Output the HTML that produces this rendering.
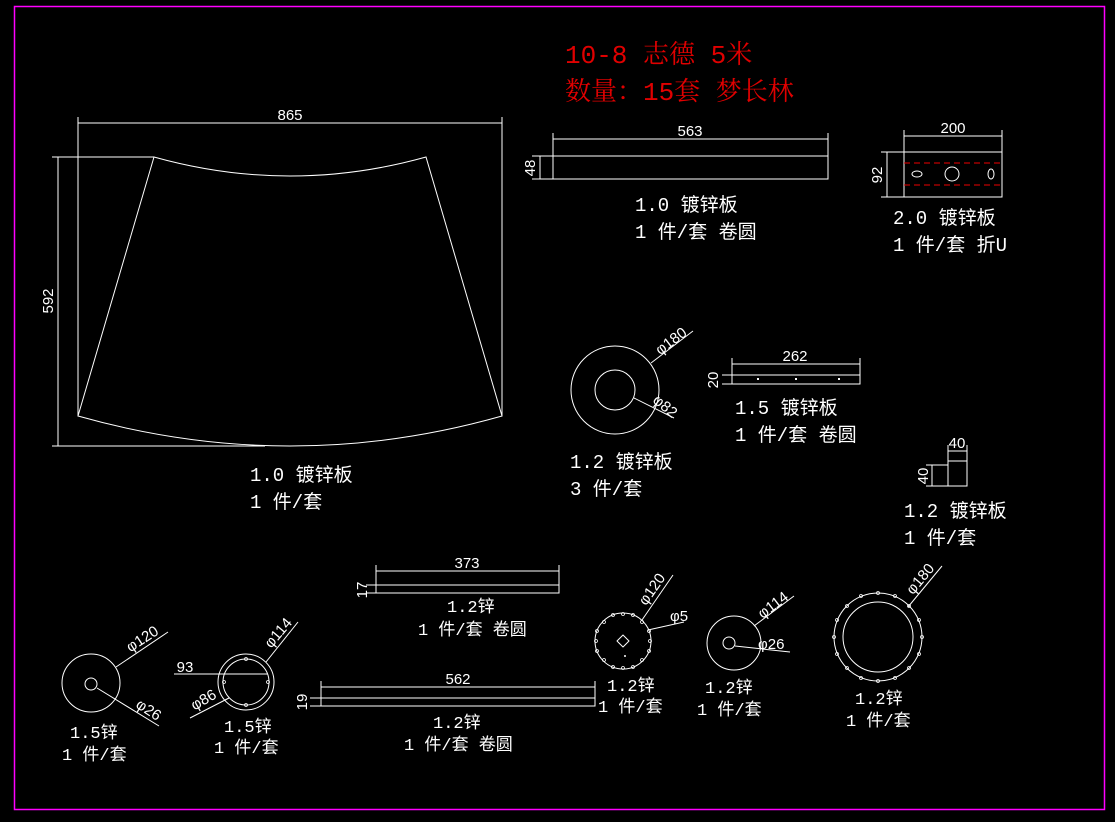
<!DOCTYPE html>
<html><head><meta charset="utf-8"><style>
html,body{margin:0;padding:0;background:#000;}
svg{display:block;}
text{font-family:"Liberation Sans","Noto Sans CJK SC",sans-serif;fill:#fff;}
.l{font-family:"Liberation Mono","Noto Sans CJK SC",monospace;font-size:19px;}
.d{font-size:15px;}
.t{font-family:"Liberation Mono","Noto Serif CJK SC",monospace;font-size:26px;fill:#e00000;}
</style></head><body>
<svg width="1115" height="822" viewBox="0 0 1115 822" xmlns="http://www.w3.org/2000/svg">
<rect x="0" y="0" width="1115" height="822" fill="#000"/>
<rect x="14.5" y="6.5" width="1090" height="803" fill="none" stroke="#ff00ff" stroke-width="1.5"/>
<g stroke="#fff" stroke-width="1" fill="none">
<path d="M154,157 Q290,195 426,157 L502,416 Q290,476 78,416 Z"/>
<line x1="78" y1="117" x2="78" y2="416"/><line x1="502" y1="117" x2="502" y2="416"/>
<line x1="78" y1="123" x2="502" y2="123"/>
<line x1="52" y1="157" x2="154" y2="157"/><line x1="52" y1="446" x2="265" y2="446"/>
<line x1="58" y1="157" x2="58" y2="446"/>
<rect x="553" y="156" width="275" height="23"/>
<line x1="553" y1="133" x2="553" y2="156"/><line x1="828" y1="133" x2="828" y2="156"/>
<line x1="553" y1="139" x2="828" y2="139"/>
<line x1="532" y1="156" x2="553" y2="156"/><line x1="532" y1="179" x2="553" y2="179"/>
<line x1="540" y1="156" x2="540" y2="179"/>
<rect x="904" y="152" width="98" height="45"/>
<line x1="904" y1="130" x2="904" y2="152"/><line x1="1002" y1="130" x2="1002" y2="152"/>
<line x1="904" y1="136" x2="1002" y2="136"/>
<line x1="881" y1="152" x2="904" y2="152"/><line x1="881" y1="197" x2="904" y2="197"/>
<line x1="887" y1="152" x2="887" y2="197"/>
<ellipse cx="917" cy="174" rx="5" ry="3"/><circle cx="952" cy="174" r="7"/><ellipse cx="991" cy="174" rx="3" ry="5"/>
<circle cx="615" cy="390" r="44"/><circle cx="615" cy="390" r="20"/>
<line x1="651" y1="363" x2="693" y2="331"/><line x1="634" y1="398" x2="674" y2="418"/>
<rect x="732" y="375" width="128" height="9"/>
<line x1="732" y1="358" x2="732" y2="375"/><line x1="860" y1="358" x2="860" y2="375"/>
<line x1="732" y1="364" x2="860" y2="364"/>
<line x1="722" y1="375" x2="732" y2="375"/><line x1="722" y1="384" x2="732" y2="384"/>
<rect x="948" y="461" width="19" height="25"/>
<line x1="948" y1="445" x2="948" y2="461"/><line x1="967" y1="445" x2="967" y2="461"/>
<line x1="948" y1="451" x2="967" y2="451"/>
<line x1="926" y1="465" x2="948" y2="465"/><line x1="926" y1="486" x2="948" y2="486"/>
<line x1="932" y1="465" x2="932" y2="486"/>
<rect x="376" y="585" width="183" height="8"/>
<line x1="376" y1="565" x2="376" y2="585"/><line x1="559" y1="565" x2="559" y2="585"/>
<line x1="376" y1="571" x2="559" y2="571"/>
<line x1="366" y1="585" x2="376" y2="585"/><line x1="366" y1="593" x2="376" y2="593"/>
<rect x="321" y="698" width="274" height="8"/>
<line x1="321" y1="681" x2="321" y2="698"/><line x1="595" y1="681" x2="595" y2="698"/>
<line x1="321" y1="687" x2="595" y2="687"/>
<line x1="310" y1="698" x2="321" y2="698"/><line x1="310" y1="706" x2="321" y2="706"/>
<circle cx="91" cy="683" r="29"/><circle cx="91" cy="684" r="6"/>
<line x1="116" y1="667" x2="168" y2="632"/><line x1="97" y1="688" x2="159" y2="726"/>
<circle cx="246" cy="682" r="28"/><circle cx="246" cy="682" r="23"/>
<line x1="174" y1="674" x2="268" y2="674"/>
<line x1="266" y1="662" x2="298" y2="622"/><line x1="229" y1="698" x2="190" y2="718"/>
<circle cx="623" cy="641" r="28"/>
<path d="M623,635 L629,641 L623,647 L617,641 Z" stroke-linejoin="round"/>
<line x1="642" y1="620" x2="673" y2="575"/><line x1="648" y1="630" x2="684" y2="622"/>
<circle cx="734" cy="643" r="27"/><circle cx="729" cy="643" r="6"/>
<line x1="754" y1="626" x2="794" y2="596"/><line x1="735" y1="646" x2="790" y2="652"/>
<circle cx="878" cy="637" r="44"/><circle cx="878" cy="637" r="35"/>
<line x1="908" y1="607" x2="942" y2="566"/>
</g>
<g stroke="#e00" stroke-width="1" stroke-dasharray="6,4">
<line x1="904" y1="163" x2="1002" y2="163"/><line x1="904" y1="185" x2="1002" y2="185"/>
</g>
<g fill="#fff">
<circle cx="625" cy="656" r="1"/>
<rect x="795" y="378" width="2" height="2"/><rect x="757" y="378" width="2" height="2"/><rect x="838" y="378" width="2" height="2"/>
</g>
<g fill="none" stroke="#fff" stroke-width="0.8">
<circle cx="650" cy="641" r="1.5"/><circle cx="596" cy="641" r="1.5"/><circle cx="623" cy="614" r="1.5"/><circle cx="623" cy="668" r="1.5"/>
<circle cx="642" cy="622" r="1.5"/><circle cx="604" cy="622" r="1.5"/><circle cx="642" cy="660" r="1.5"/><circle cx="604" cy="660" r="1.5"/>
<circle cx="633" cy="615" r="1.5"/><circle cx="613" cy="615" r="1.5"/><circle cx="633" cy="667" r="1.5"/><circle cx="613" cy="667" r="1.5"/>
<circle cx="649" cy="651" r="1.5"/><circle cx="597" cy="651" r="1.5"/><circle cx="649" cy="631" r="1.5"/><circle cx="597" cy="631" r="1.5"/>
<circle cx="922" cy="637" r="1.5"/><circle cx="834" cy="637" r="1.5"/><circle cx="878" cy="593" r="1.5"/><circle cx="878" cy="681" r="1.5"/>
<circle cx="909" cy="606" r="1.5"/><circle cx="847" cy="606" r="1.5"/><circle cx="909" cy="668" r="1.5"/><circle cx="847" cy="668" r="1.5"/>
<circle cx="895" cy="596" r="1.5"/><circle cx="861" cy="596" r="1.5"/><circle cx="895" cy="678" r="1.5"/><circle cx="861" cy="678" r="1.5"/>
<circle cx="919" cy="620" r="1.5"/><circle cx="837" cy="620" r="1.5"/><circle cx="919" cy="654" r="1.5"/><circle cx="837" cy="654" r="1.5"/>
<circle cx="246" cy="659" r="1.5"/><circle cx="246" cy="705" r="1.5"/><circle cx="224" cy="682" r="1.5"/><circle cx="268" cy="682" r="1.5"/>
</g>
<text class="t" x="565" y="63">10-8 志德 5米</text>
<text class="t" x="565" y="100">数量：15套 梦长林</text>
<text class="d" x="290" y="120" text-anchor="middle">865</text>
<text class="d" x="53" y="301" text-anchor="middle" transform="rotate(-90 53 301)">592</text>
<text class="d" x="690" y="136" text-anchor="middle">563</text>
<text class="d" x="535" y="168" text-anchor="middle" transform="rotate(-90 535 168)">48</text>
<text class="d" x="953" y="133" text-anchor="middle">200</text>
<text class="d" x="882" y="175" text-anchor="middle" transform="rotate(-90 882 175)">92</text>
<text class="d" x="795" y="361" text-anchor="middle">262</text>
<text class="d" x="718" y="380" text-anchor="middle" transform="rotate(-90 718 380)">20</text>
<text class="d" x="957" y="448" text-anchor="middle">40</text>
<text class="d" x="928" y="476" text-anchor="middle" transform="rotate(-90 928 476)">40</text>
<text class="d" x="467" y="568" text-anchor="middle">373</text>
<text class="d" x="367" y="590" text-anchor="middle" transform="rotate(-90 367 590)">17</text>
<text class="d" x="458" y="684" text-anchor="middle">562</text>
<text class="d" x="307" y="702" text-anchor="middle" transform="rotate(-90 307 702)">19</text>
<text class="d" x="185" y="672" text-anchor="middle">93</text>
<text class="d" x="674" y="345" text-anchor="middle" transform="rotate(-37 674 345)">φ180</text>
<text class="d" x="662" y="410" text-anchor="middle" transform="rotate(40 662 410)">φ82</text>
<text class="d" x="145" y="643" text-anchor="middle" transform="rotate(-33 145 643)">φ120</text>
<text class="d" x="146" y="714" text-anchor="middle" transform="rotate(33 146 714)">φ26</text>
<text class="d" x="282" y="636" text-anchor="middle" transform="rotate(-50 282 636)">φ114</text>
<text class="d" x="206" y="704" text-anchor="middle" transform="rotate(-30 206 704)">φ86</text>
<text class="d" x="656" y="592" text-anchor="middle" transform="rotate(-55 656 592)">φ120</text>
<text class="d" x="670" y="621">φ5</text>
<text class="d" x="776" y="609" text-anchor="middle" transform="rotate(-37 776 609)">φ114</text>
<text class="d" x="758" y="649">φ26</text>
<text class="d" x="924" y="582" text-anchor="middle" transform="rotate(-50 924 582)">φ180</text>
<text class="l" x="635" y="211">1.0 镀锌板</text>
<text class="l" x="635" y="238">1 件/套 卷圆</text>
<text class="l" x="893" y="224">2.0 镀锌板</text>
<text class="l" x="893" y="251">1 件/套 折U</text>
<text class="l" x="735" y="414">1.5 镀锌板</text>
<text class="l" x="735" y="441">1 件/套 卷圆</text>
<text class="l" x="570" y="468">1.2 镀锌板</text>
<text class="l" x="570" y="495">3 件/套</text>
<text class="l" x="250" y="481">1.0 镀锌板</text>
<text class="l" x="250" y="508">1 件/套</text>
<text class="l" x="904" y="517">1.2 镀锌板</text>
<text class="l" x="904" y="544">1 件/套</text>
<text class="l" x="447" y="612" style="font-size:17px">1.2锌</text>
<text class="l" x="418" y="635" style="font-size:17px">1 件/套 卷圆</text>
<text class="l" x="433" y="728" style="font-size:17px">1.2锌</text>
<text class="l" x="404" y="750" style="font-size:17px">1 件/套 卷圆</text>
<text class="l" x="70" y="738" style="font-size:17px">1.5锌</text>
<text class="l" x="62" y="760" style="font-size:17px">1 件/套</text>
<text class="l" x="224" y="732" style="font-size:17px">1.5锌</text>
<text class="l" x="214" y="753" style="font-size:17px">1 件/套</text>
<text class="l" x="607" y="691" style="font-size:17px">1.2锌</text>
<text class="l" x="598" y="712" style="font-size:17px">1 件/套</text>
<text class="l" x="705" y="693" style="font-size:17px">1.2锌</text>
<text class="l" x="697" y="715" style="font-size:17px">1 件/套</text>
<text class="l" x="855" y="704" style="font-size:17px">1.2锌</text>
<text class="l" x="846" y="726" style="font-size:17px">1 件/套</text>
</svg>
</body></html>
